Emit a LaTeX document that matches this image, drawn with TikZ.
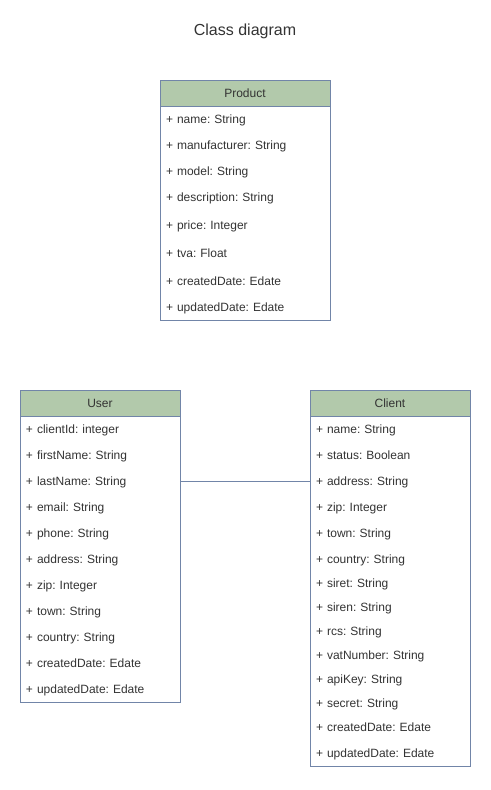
\documentclass[tikz,border=0pt]{standalone}
\usepackage{fontspec}
\setmainfont{Liberation Sans}
\frenchspacing
\definecolor{headgreen}{HTML}{B2C9AB}
\definecolor{edgeblue}{HTML}{7185A8}
\definecolor{textgrey}{HTML}{333333}

\begin{document}
\begin{tikzpicture}
[x=0.75pt, y=-0.75pt, node distance=19.5pt, line width=0.75pt, font=\fontsize{9}{11}\selectfont, text=textgrey]
\tikzstyle{head}=[rectangle, draw=edgeblue, fill=headgreen, inner sep=0mm, outer sep=0mm, minimum width=120pt, minimum height=19.5pt]
\tikzstyle{body}=[rectangle, draw=edgeblue, inner sep=0mm, outer sep=0mm, minimum width=120pt, anchor=north]
\tikzstyle{attr}=[inner sep=0mm, align=left, text width=111pt, text height=6.5pt, text depth=0pt]
\useasboundingbox (0,0) rectangle (491,790);

\node (title) at (245,31) {\fontsize{12}{14}\selectfont Class diagram};

% Product
\node[head, minimum width=127.5pt]	(Phead)	at (245,93) {Product};
\node[body, minimum width=127.5pt, minimum height=160.5pt]	(Pbody)	at (Phead.south) {};
\node[attr, text width=118.5pt]	(P1)	[below of=Phead] {+ name: String};
\node[attr, text width=118.5pt]	(P2)	[below of=P1] {+ manufacturer: String};
\node[attr, text width=118.5pt]	(P3)	[below of=P2] {+ model: String};
\node[attr, text width=118.5pt]	(P4)	[below of=P3] {+ description: String};
\node[attr, text width=118.5pt]	(P5)	[below of=P4, node distance=21pt] {+ price: Integer};
\node[attr, text width=118.5pt]	(P6)	[below of=P5, node distance=21pt] {+ tva: Float};
\node[attr, text width=118.5pt]	(P7)	[below of=P6, node distance=21pt] {+ createdDate: Edate};
\node[attr, text width=118.5pt]	(P8)	[below of=P7] {+ updatedDate: Edate};

% User
\node[head]	(Uhead)	at (100,403) {User};
\node[body, minimum height=214.5pt]	(Ubody)	at (Uhead.south) {};
\node[attr]	(U1)	[below of=Uhead] {+ clientId: integer};
\node[attr]	(U2)	[below of=U1] {+ firstName: String};
\node[attr]	(U3)	[below of=U2] {+ lastName: String};
\node[attr]	(U4)	[below of=U3] {+ email: String};
\node[attr]	(U5)	[below of=U4] {+ phone: String};
\node[attr]	(U6)	[below of=U5] {+ address: String};
\node[attr]	(U7)	[below of=U6] {+ zip: Integer};
\node[attr]	(U8)	[below of=U7] {+ town: String};
\node[attr]	(U9)	[below of=U8] {+ country: String};
\node[attr]	(U10)	[below of=U9] {+ createdDate: Edate};
\node[attr]	(U11)	[below of=U10] {+ updatedDate: Edate};

% Client
\node[head]	(Chead)	at (390,403) {Client};
\node[body, minimum height=262.5pt]	(Cbody)	at (Chead.south) {};
\node[attr]	(C1)	[below of=Chead] {+ name: String};
\node[attr]	(C2)	[below of=C1] {+ status: Boolean};
\node[attr]	(C3)	[below of=C2] {+ address: String};
\node[attr]	(C4)	[below of=C3] {+ zip: Integer};
\node[attr]	(C5)	[below of=C4] {+ town: String};
\node[attr]	(C6)	[below of=C5] {+ country: String};
\node[attr]	(C7)	[below of=C6, node distance=18pt] {+ siret: String};
\node[attr]	(C8)	[below of=C7, node distance=18pt] {+ siren: String};
\node[attr]	(C9)	[below of=C8, node distance=18pt] {+ rcs: String};
\node[attr]	(C10)	[below of=C9, node distance=18pt] {+ vatNumber: String};
\node[attr]	(C11)	[below of=C10, node distance=18pt] {+ apiKey: String};
\node[attr]	(C12)	[below of=C11, node distance=18pt] {+ secret: String};
\node[attr]	(C13)	[below of=C12, node distance=18pt] {+ createdDate: Edate};
\node[attr]	(C14)	[below of=C13] {+ updatedDate: Edate};

\draw[edgeblue]	(Ubody.east |- U3) -- (Cbody.west |- U3);

\end{tikzpicture}
\end{document}
